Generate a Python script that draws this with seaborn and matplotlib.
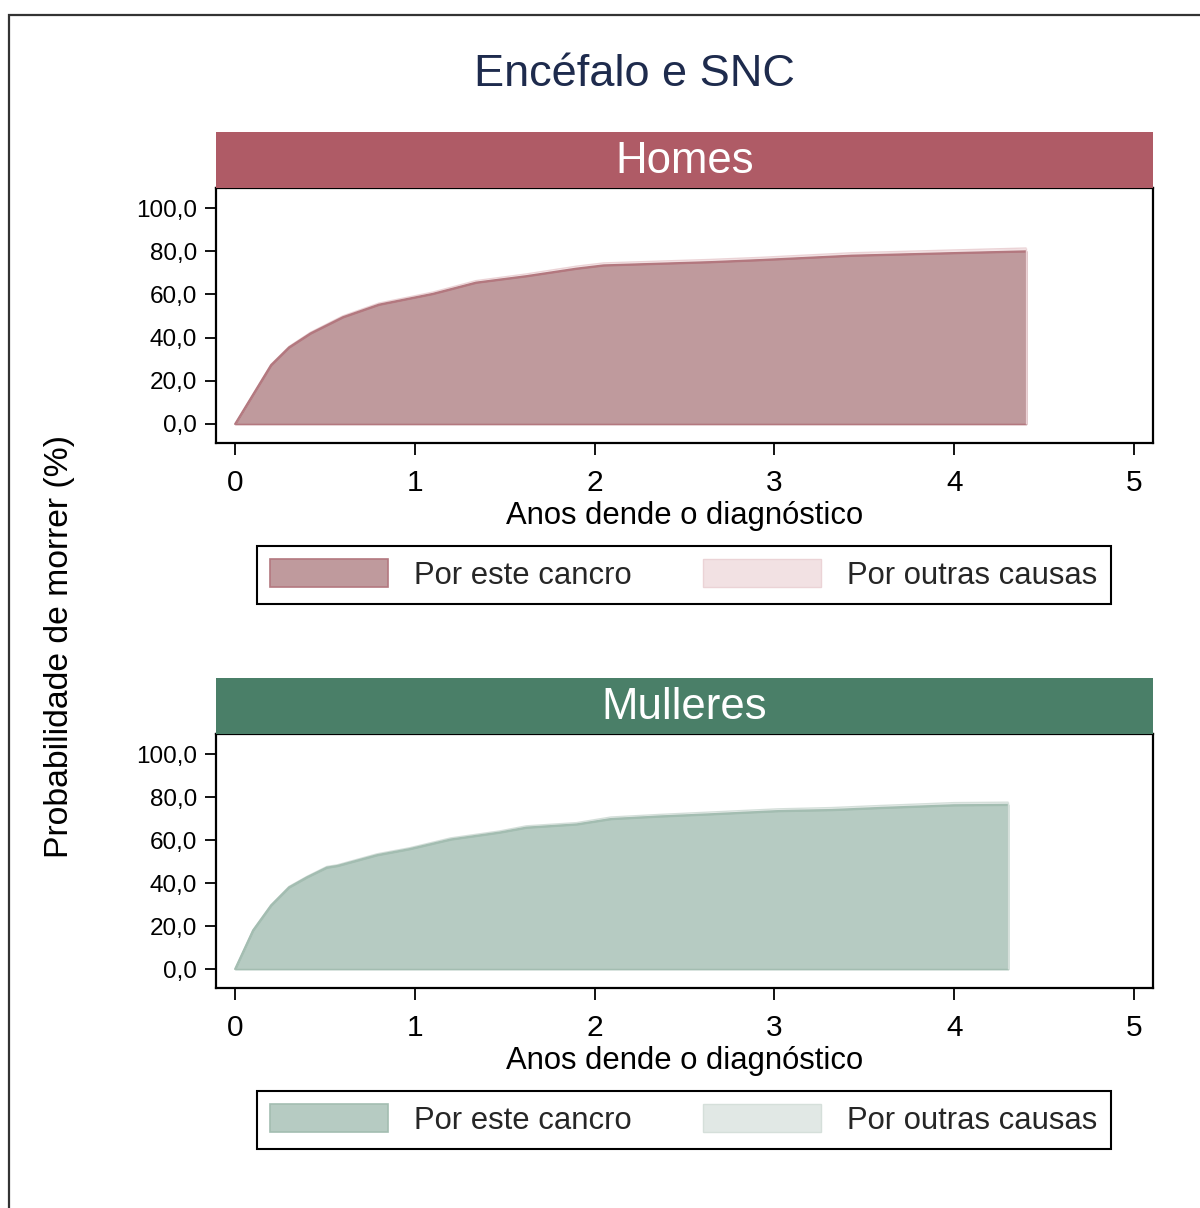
import numpy as np
import pandas as pd
import matplotlib
matplotlib.use("Agg")
import matplotlib.pyplot as plt
import seaborn as sns
from matplotlib.patches import Rectangle, Patch

# ---------------- data ----------------
title = "Encéfalo e SNC"
panel_names = ["Homes", "Mulleres"]
legend_labels = ["Por este cancro", "Por outras causas"]
xticks = [0, 1, 2, 3, 4, 5]
yticks = [0, 20, 40, 60, 80, 100]
ytick_labels = ["0,0", "20,0", "40,0", "60,0", "80,0", "100,0"]

years_homes = [0, 0.2, 0.3, 0.42, 0.6, 0.8, 1.1, 1.34, 1.62, 1.9, 2.05, 2.64, 2.93, 3.43, 4.0, 4.4]
cancer_homes = [0, 27.3, 35.5, 42.0, 49.5, 55.3, 60.3, 65.5, 68.5, 72.0, 73.5, 75.0, 76.0, 78.0, 79.2, 80.0]
other_homes = [0, 0.3, 0.4, 0.5, 0.6, 0.7, 0.8, 0.9, 1.0, 1.1, 1.1, 1.2, 1.2, 1.3, 1.4, 1.5]

years_mulleres = [0, 0.1, 0.2, 0.3, 0.4, 0.51, 0.57, 0.79, 0.97, 1.2, 1.47, 1.62, 1.9, 2.09,
                  2.36, 2.64, 3.02, 3.32, 3.6, 4.0, 4.3]
cancer_mulleres = [0, 18.0, 29.6, 38.0, 42.7, 47.2, 48.0, 53.0, 55.8, 60.3, 63.5, 65.8, 67.3, 69.8,
                   71.0, 72.0, 73.5, 74.0, 75.0, 76.2, 76.4]
other_mulleres = [0, 0.2, 0.3, 0.4, 0.4, 0.5, 0.5, 0.6, 0.6, 0.7, 0.7, 0.8, 0.8, 0.9,
                  0.9, 1.0, 1.0, 1.1, 1.1, 1.2, 1.2]

# ---------------- style ----------------
sns.set_theme(style="white")
plt.rcParams["font.family"] = ["Liberation Sans", "DejaVu Sans"]

styles = {
    "Homes": dict(strip="#AF5B66", fill="#BF9A9D", edge="#B3787F", other="#F2E1E3", other_edge="#EBD3D6"),
    "Mulleres": dict(strip="#4A7F68", fill="#B6CBC2", edge="#A3BDB1", other="#E1E8E5", other_edge="#D5DFDA"),
}

W, H = 1200, 1208
fig = plt.figure(figsize=(W / 100, H / 100), dpi=100)

def fx(px):
    return px / W

def fy(py):
    return 1 - py / H

# outer frame
fig.add_artist(Rectangle((fx(9), -0.05), 1.2, fy(15) + 0.05, transform=fig.transFigure,
                         fill=False, lw=1.6, ec="#333333"))

fig.text(fx(634), fy(74), title, ha="center", va="center", fontsize=32.5, color="#1E2B4D")
fig.text(fx(60), fy(647), "Probabilidade de morrer (%)", rotation=90, ha="center", va="center",
         fontsize=24.3, color="black")

layouts = [
    dict(name="Homes", years=years_homes, cancer=cancer_homes, other=other_homes,
         strip_top=132, ax_top=188, ax_bot=443, leg_y=575),
    dict(name="Mulleres", years=years_mulleres, cancer=cancer_mulleres, other=other_mulleres,
         strip_top=678, ax_top=734, ax_bot=988, leg_y=1120),
]

left, right = 216, 1153
for lay in layouts:
    st = styles[lay["name"]]
    ax = fig.add_axes([fx(left), fy(lay["ax_bot"]), fx(right) - fx(left),
                       (lay["ax_bot"] - lay["ax_top"]) / H])
    df = pd.DataFrame({"t": lay["years"], "cancer": lay["cancer"], "other": lay["other"]})
    df["total"] = df["cancer"] + df["other"]

    ax.fill_between(df["t"], df["cancer"], df["total"], color=st["other"], lw=0)
    ax.fill_between(df["t"], 0, df["cancer"], facecolor=st["fill"], edgecolor=st["edge"], lw=1.2)
    sns.lineplot(data=df, x="t", y="total", ax=ax, color=st["other_edge"], lw=1.0)
    sns.lineplot(data=df, x="t", y="cancer", ax=ax, color=st["edge"], lw=1.4)
    ax.vlines(df["t"].iloc[-1], 0, df["total"].iloc[-1], color=st["other_edge"], lw=1.0)

    ax.set_xlim(-0.106, 5.106)
    ax.set_ylim(-8.8, 109.3)
    ax.set_xticks(xticks)
    ax.set_xticklabels([str(v) for v in xticks])
    ax.set_yticks(yticks)
    ax.set_yticklabels(ytick_labels)
    ax.tick_params(axis="y", which="major", left=True, length=8, width=1.3, pad=5.5,
                   labelsize=17.5, colors="black")
    ax.tick_params(axis="x", which="major", bottom=True, length=8.5, width=1.3, pad=10.5,
                   labelsize=21.5, colors="black")
    ax.set_xlabel("Anos dende o diagnóstico", fontsize=22.3, labelpad=2.5, color="black")
    ax.set_ylabel("")
    for sp in ax.spines.values():
        sp.set_visible(True)
        sp.set_color("black")
        sp.set_linewidth(1.6)
    ax.set_facecolor("white")

    # header strip
    sax = fig.add_axes([fx(left), fy(lay["ax_top"]), fx(right) - fx(left),
                        (lay["ax_top"] - lay["strip_top"]) / H])
    sax.set_facecolor(st["strip"])
    sax.set_xticks([])
    sax.set_yticks([])
    for sp in sax.spines.values():
        sp.set_visible(False)
    sax.text(0.5, 0.47, lay["name"], transform=sax.transAxes, ha="center", va="center",
             fontsize=31.5, color="white")

    handles = [Patch(facecolor=st["fill"], edgecolor=st["edge"], lw=1.2),
               Patch(facecolor=st["other"], edgecolor=st["other_edge"], lw=1.0)]
    leg = fig.legend(handles, legend_labels, loc="center", bbox_to_anchor=(fx(684), fy(lay["leg_y"])),
                     bbox_transform=fig.transFigure, ncol=2, fontsize=22.3, frameon=True,
                     fancybox=False, edgecolor="black", handlelength=3.8, handleheight=1.0,
                     handletextpad=0.85, columnspacing=2.3, borderpad=0.42, borderaxespad=0)
    leg.get_frame().set_linewidth(1.5)
    leg.get_frame().set_alpha(1)

fig.savefig("out.png", dpi=100)
